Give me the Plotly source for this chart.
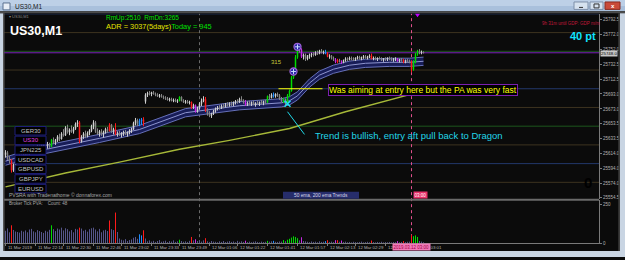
import plotly.graph_objects as go

W, H = 625, 260
FONT = "Liberation Sans, Arial, sans-serif"

# ---------------- data ----------------
opens = [25612, 25615, 25607, 25604, 25591, 25598, 25604, 25607, 25610, 25606,
         25612, 25616, 25613, 25618, 25621, 25617, 25620, 25624, 25622, 25625,
         25627, 25624, 25626, 25623, 25632, 25628, 25631, 25636, 25633, 25640,
         25638, 25648, 25642, 25645, 25643, 25647, 25653, 25655, 25630, 25636,
         25640, 25637, 25641, 25644, 25650, 25655, 25643, 25640, 25643, 25639,
         25642, 25646, 25644, 25652, 25643, 25646, 25640, 25641, 25638, 25640,
         25642, 25639, 25641, 25644, 25646, 25654, 25658, 25652, 25657, 25659,
         25683, 25692, 25694, 25693, 25695, 25693, 25692, 25690, 25691, 25689,
         25688, 25687, 25685, 25686, 25684, 25685, 25683, 25684, 25689, 25684,
         25682, 25683, 25681, 25682, 25675, 25678, 25670, 25674, 25680, 25684,
         25686, 25671, 25666, 25664, 25667, 25670, 25673, 25675, 25674, 25677,
         25676, 25679, 25678, 25680, 25679, 25681, 25683, 25682, 25686, 25684,
         25682, 25679, 25681, 25680, 25682, 25679, 25681, 25680, 25682, 25681,
         25683, 25682, 25690, 25688, 25692, 25690, 25693, 25691, 25687, 25683,
         25686, 25680, 25691, 25697, 25715, 25723, 25742, 25755, 25752, 25743,
         25745, 25740, 25743, 25745, 25746, 25745, 25748, 25747, 25750, 25748,
         25749, 25747, 25743, 25744, 25741, 25739, 25736, 25738, 25736, 25735,
         25738, 25740, 25739, 25741, 25740, 25739, 25741, 25742, 25740, 25742,
         25743, 25741, 25742, 25744, 25740, 25741, 25739, 25741, 25740, 25738,
         25740, 25739, 25741, 25740, 25738, 25739, 25740, 25737, 25739, 25738,
         25736, 25738, 25737, 25736, 25726, 25736, 25746, 25750, 25748, 25749]
highs = [25618, 25617, 25610, 25606, 25600, 25606, 25609, 25612, 25613, 25614,
         25618, 25619, 25620, 25623, 25624, 25622, 25626, 25628, 25627, 25630,
         25631, 25629, 25628, 25633, 25635, 25633, 25638, 25640, 25642, 25646,
         25650, 25652, 25647, 25651, 25649, 25655, 25658, 25657, 25638, 25642,
         25644, 25643, 25646, 25652, 25658, 25657, 25647, 25645, 25646, 25644,
         25648, 25649, 25654, 25653, 25648, 25654, 25643, 25644, 25642, 25644,
         25645, 25643, 25646, 25648, 25656, 25661, 25660, 25660, 25661, 25662,
         25694, 25696, 25697, 25696, 25697, 25695, 25694, 25693, 25693, 25691,
         25690, 25689, 25688, 25688, 25687, 25687, 25686, 25690, 25690, 25686,
         25685, 25685, 25684, 25683, 25680, 25679, 25676, 25682, 25687, 25690,
         25689, 25674, 25670, 25668, 25672, 25675, 25677, 25678, 25679, 25680,
         25681, 25682, 25682, 25683, 25683, 25685, 25686, 25688, 25690, 25686,
         25685, 25683, 25684, 25683, 25684, 25682, 25684, 25683, 25685, 25684,
         25685, 25691, 25693, 25694, 25695, 25694, 25695, 25693, 25689, 25688,
         25687, 25693, 25699, 25717, 25726, 25745, 25758, 25759, 25754, 25747,
         25747, 25745, 25747, 25748, 25749, 25750, 25751, 25752, 25753, 25751,
         25752, 25749, 25746, 25745, 25743, 25741, 25740, 25740, 25738, 25739,
         25742, 25742, 25743, 25743, 25742, 25742, 25744, 25744, 25743, 25745,
         25745, 25744, 25746, 25747, 25743, 25743, 25742, 25743, 25742, 25741,
         25742, 25742, 25743, 25742, 25741, 25742, 25741, 25740, 25741, 25740,
         25739, 25740, 25739, 25738, 25738, 25748, 25752, 25753, 25751, 25750]
lows = [25608, 25605, 25600, 25588, 25589, 25595, 25600, 25603, 25604, 25605,
        25609, 25610, 25611, 25614, 25615, 25613, 25617, 25619, 25618, 25621,
        25622, 25620, 25621, 25622, 25626, 25625, 25629, 25630, 25632, 25636,
        25637, 25640, 25638, 25641, 25640, 25645, 25649, 25627, 25628, 25633,
        25634, 25635, 25638, 25642, 25646, 25641, 25638, 25636, 25637, 25635,
        25640, 25641, 25643, 25641, 25639, 25638, 25636, 25637, 25635, 25637,
        25638, 25636, 25639, 25641, 25645, 25651, 25650, 25650, 25652, 25650,
        25680, 25689, 25691, 25690, 25692, 25690, 25689, 25688, 25688, 25686,
        25685, 25684, 25683, 25683, 25682, 25682, 25681, 25683, 25683, 25681,
        25680, 25680, 25679, 25673, 25673, 25668, 25668, 25672, 25677, 25682,
        25669, 25664, 25662, 25661, 25665, 25668, 25671, 25672, 25673, 25674,
        25675, 25676, 25676, 25677, 25677, 25679, 25680, 25681, 25683, 25680,
        25677, 25677, 25678, 25677, 25678, 25676, 25678, 25677, 25679, 25678,
        25680, 25681, 25686, 25687, 25688, 25688, 25689, 25685, 25682, 25681,
        25678, 25679, 25689, 25696, 25713, 25721, 25740, 25748, 25741, 25739,
        25737, 25738, 25740, 25742, 25743, 25744, 25745, 25746, 25747, 25746,
        25746, 25742, 25740, 25739, 25737, 25734, 25734, 25735, 25733, 25734,
        25736, 25737, 25738, 25738, 25737, 25737, 25739, 25739, 25738, 25740,
        25740, 25739, 25741, 25739, 25738, 25738, 25737, 25739, 25737, 25736,
        25737, 25737, 25738, 25737, 25736, 25737, 25736, 25735, 25736, 25734,
        25734, 25735, 25734, 25722, 25724, 25734, 25744, 25746, 25746, 25747]
closes = [25615, 25607, 25604, 25591, 25598, 25604, 25607, 25610, 25606, 25612,
          25616, 25613, 25618, 25621, 25617, 25620, 25624, 25622, 25625, 25627,
          25624, 25626, 25623, 25632, 25628, 25631, 25636, 25633, 25640, 25638,
          25648, 25642, 25645, 25643, 25647, 25653, 25655, 25630, 25636, 25640,
          25637, 25641, 25644, 25650, 25655, 25643, 25640, 25643, 25639, 25642,
          25646, 25644, 25652, 25643, 25646, 25640, 25641, 25638, 25640, 25642,
          25639, 25641, 25644, 25646, 25654, 25658, 25652, 25657, 25659, 25655,
          25692, 25694, 25693, 25695, 25693, 25692, 25690, 25691, 25689, 25688,
          25687, 25685, 25686, 25684, 25685, 25683, 25684, 25689, 25684, 25682,
          25683, 25681, 25682, 25675, 25678, 25670, 25674, 25680, 25684, 25686,
          25671, 25666, 25664, 25667, 25670, 25673, 25675, 25674, 25677, 25676,
          25679, 25678, 25680, 25679, 25681, 25683, 25682, 25686, 25684, 25682,
          25679, 25681, 25680, 25682, 25679, 25681, 25680, 25682, 25681, 25683,
          25682, 25690, 25688, 25692, 25690, 25693, 25691, 25687, 25683, 25686,
          25680, 25691, 25697, 25715, 25723, 25742, 25755, 25752, 25743, 25745,
          25740, 25743, 25745, 25746, 25745, 25748, 25747, 25750, 25748, 25749,
          25747, 25743, 25744, 25741, 25739, 25736, 25738, 25736, 25735, 25738,
          25740, 25739, 25741, 25740, 25739, 25741, 25742, 25740, 25742, 25743,
          25741, 25742, 25744, 25740, 25741, 25739, 25741, 25740, 25738, 25740,
          25739, 25741, 25740, 25738, 25739, 25740, 25737, 25739, 25738, 25736,
          25738, 25737, 25736, 25726, 25736, 25746, 25750, 25748, 25749, 25748]
volumes = [80, 95, 70, 115, 85, 75, 72, 68, 80, 74,
           82, 70, 88, 92, 76, 70, 84, 78, 72, 66,
           80, 74, 86, 115, 90, 78, 94, 88, 100, 82,
           96, 90, 76, 84, 70, 92, 88, 100, 94, 80,
           86, 74, 90, 96, 100, 88, 76, 92, 70, 82,
           86, 78, 146, 90, 84, 197, 72, 30, 22, 18,
           26, 14, 20, 24, 35, 40, 28, 57, 50, 83,
           30, 12, 18, 10, 15, 8, 14, 20, 9, 12,
           16, 7, 13, 10, 18, 8, 12, 22, 14, 9,
           12, 8, 15, 40, 18, 25, 14, 16, 10, 18,
           32, 12, 8, 14, 10, 9, 6, 12, 8, 14,
           7, 10, 13, 8, 11, 6, 15, 9, 12, 8,
           16, 7, 10, 6, 9, 12, 8, 6, 10, 7,
           9, 15, 10, 12, 15, 9, 8, 11, 10, 20,
           13, 22, 28, 36, 44, 40, 32, 18, 38, 14,
           12, 9, 7, 11, 8, 10, 6, 12, 8, 9,
           13, 19, 8, 10, 7, 19, 19, 9, 17, 8,
           10, 6, 8, 5, 9, 7, 6, 8, 10, 5,
           7, 9, 6, 17, 7, 5, 8, 6, 9, 5,
           7, 6, 8, 5, 7, 6, 13, 6, 8, 13,
           7, 9, 10, 53, 45, 50, 40, 14, 10, 6]

# PVSRA colour classes (bar indices)
red_bars = [3, 37, 52, 55, 69, 93, 100, 161, 166, 183, 199, 203]
green_bars = [23, 87, 131, 139, 141, 142, 143, 144, 145, 146, 204, 205, 206]
blue_bars = [67, 68, 134, 160]
magenta_bars = [95, 120, 148, 165, 168, 196]

# Dragon (EMA34 high / close / low) and 200 EMA, read at vertices
dragon_x = [0, 18, 47, 67, 90, 103, 117, 138, 142, 146, 152, 157, 164, 172, 180, 192, 202, 209]
dragon_hi = [25608.8, 25623.4, 25639.2, 25651.1, 25673.5, 25677.5, 25682.8, 25686.7, 25689.4,
             25696.0, 25713.1, 25723.7, 25731.6, 25736.9, 25739.5, 25740.8, 25740.8, 25742.2]
dragon_mid = [25603.3, 25617.9, 25633.7, 25645.6, 25668.0, 25672.0, 25677.3, 25681.2, 25683.9,
              25690.5, 25707.6, 25718.2, 25726.1, 25731.4, 25734.0, 25735.3, 25735.3, 25736.7]
dragon_lo = [25597.8, 25612.4, 25628.2, 25640.1, 25662.5, 25666.5, 25671.8, 25675.7, 25678.4,
             25685.0, 25702.1, 25712.7, 25720.6, 25725.9, 25728.5, 25729.8, 25729.8, 25731.2]
ema200_x = [0, 30, 57, 87, 112, 142, 170, 202, 209]
ema200 = [25569.0, 25587.5, 25602.0, 25619.2, 25631.1, 25646.9, 25669.3, 25691.8, 25697.1]

price_ticks = [25554.5, 25574.0, 25594.0, 25614.0, 25633.5, 25653.5, 25673.0,
               25693.0, 25712.5, 25732.5, 25752.0, 25772.0, 25792.5]
vol_ticks = [0, 250]
round_levels = [25575, 25600, 25625, 25650, 25675, 25700, 25725, 25750, 25775, 25800]

time_label_bars = [0, 15, 29, 44, 58, 73, 87, 102, 116, 131, 146, 161, 175, 190, 204]
time_labels = ["11 Mar 2019", "11 Mar 22:14", "11 Mar 22:30", "11 Mar 22:46", "11 Mar 23:02",
               "11 Mar 23:33", "11 Mar 23:49", "12 Mar 01:06", "12 Mar 01:22", "12 Mar 01:41",
               "12 Mar 01:57", "12 Mar 02:13", "12 Mar 02:29", "12 Mar 02:45", "12 Mar 03:01"]
symbols = ["GER30", "US30", "JPN225", "USDCAD", "GBPUSD", "GBPJPY", "EURUSD"]
active_symbol = "US30"

separator_bar = 97          # day separator
event_bar = 203             # pink vertical line
event_label = "2019.03.12 03:00"
event_short = "03:00"
signal_bars = [144, 146]
signal_prices = [25723, 25756]
pullback_bar, pullback_price = 141, 25680
entry_level, entry_from, entry_to = 25700, 136.5, 158.5
move_points = "315"

# ---------------- helpers ----------------
N = len(closes)
def px(x): return x / W
def py(y): return 1 - y / H
P_BOT, P_TOP = 25553.18, 25800.02  # prices at pixel rows 201 and 14

cls = []
for i in range(N):
    if i in red_bars: c = "red"
    elif i in green_bars: c = "green"
    elif i in blue_bars: c = "blue"
    elif i in magenta_bars: c = "magenta"
    else: c = "bull" if closes[i] >= opens[i] else "bear"
    cls.append(c)

COL = {"bull": "#cfcfcf", "bear": "#858585", "red": "#ff1a1a", "green": "#00dc00",
       "blue": "#1e8cff", "magenta": "#c828e6"}
VCOL = dict(COL, bull="#55558a", bear="#55558a")

fig = go.Figure()

# Dragon band
fig.add_trace(go.Scatter(x=dragon_x, y=dragon_lo, mode="lines", line=dict(color="#6670b8", width=1),
                         hoverinfo="skip"))
fig.add_trace(go.Scatter(x=dragon_x, y=dragon_hi, mode="lines", line=dict(color="#6670b8", width=1),
                         fill="tonexty", fillcolor="#181d58", hoverinfo="skip"))
fig.add_trace(go.Scatter(x=dragon_x, y=dragon_mid, mode="lines", line=dict(color="#8e95cf", width=1),
                         hoverinfo="skip"))
# 200 EMA
fig.add_trace(go.Scatter(x=ema200_x, y=ema200, mode="lines", line=dict(color="#a6b838", width=1.4),
                         hoverinfo="skip"))

for key, col in COL.items():
    idx = [i for i in range(N) if cls[i] == key]
    if not idx:
        continue
    wx, wy, bx, by, vx, vy = [], [], [], [], [], []
    for i in idx:
        wx += [i, i, None]; wy += [lows[i], highs[i], None]
        lo_b, hi_b = min(opens[i], closes[i]), max(opens[i], closes[i])
        if hi_b - lo_b < 0.8:
            hi_b = lo_b + 0.8
        bx += [i, i, None]; by += [lo_b, hi_b, None]
        vx += [i, i, None]; vy += [0, volumes[i], None]
    fig.add_trace(go.Scatter(x=wx, y=wy, mode="lines", line=dict(color=col, width=1), hoverinfo="skip"))
    fig.add_trace(go.Scatter(x=bx, y=by, mode="lines", line=dict(color=col, width=1.5), hoverinfo="skip"))
    fig.add_trace(go.Scatter(x=vx, y=vy, mode="lines", line=dict(color=VCOL[key], width=1),
                             xaxis="x2", yaxis="y2", hoverinfo="skip"))

# signal circles
fig.add_trace(go.Scatter(x=signal_bars, y=signal_prices, mode="markers",
                         marker=dict(symbol="circle", size=7, color="#2a2aa8",
                                     line=dict(color="#9a60d8", width=1.3)), hoverinfo="skip"))
fig.add_trace(go.Scatter(x=signal_bars, y=signal_prices, mode="markers",
                         marker=dict(symbol="cross-thin", size=3.5, line=dict(color="#c8d8ff", width=1)),
                         hoverinfo="skip"))
fig.add_trace(go.Scatter(x=[pullback_bar], y=[pullback_price], mode="markers",
                         marker=dict(symbol="x-thin", size=6, line=dict(color="#20e0f0", width=1.6)),
                         hoverinfo="skip"))

shapes = []
# round-number levels
for lv in round_levels:
    m = lv % 100
    c = "#22386a" if m == 0 else ("#1d561d" if m == 50 else "#3d3320")
    shapes.append(dict(type="line", xref="paper", yref="y", x0=px(4), x1=px(599), y0=lv, y1=lv,
                       line=dict(color=c, width=1), layer="below"))
# bid line
shapes.append(dict(type="line", xref="paper", yref="y", x0=px(4), x1=px(599), y0=closes[-1], y1=closes[-1],
                   line=dict(color="#7a22b8", width=1), layer="below"))
# vertical separators
shapes.append(dict(type="line", xref="x", yref="paper", x0=separator_bar, x1=separator_bar,
                   y0=py(246), y1=py(14), line=dict(color="#6a6a6a", width=1, dash="dot"), layer="below"))
shapes.append(dict(type="line", xref="x", yref="paper", x0=event_bar, x1=event_bar,
                   y0=py(246), y1=py(14), line=dict(color="#e0508c", width=1, dash="dot"), layer="below"))
# user drawn lines
shapes.append(dict(type="line", xref="x", yref="y", x0=entry_from, x1=entry_to, y0=entry_level, y1=entry_level,
                   line=dict(color="#ffff00", width=1)))
shapes.append(dict(type="line", xref="x", yref="y", x0=141, x1=149.5, y0=25669.3, y1=25639,
                   line=dict(color="#20d8e8", width=1)))
# pane separators
shapes.append(dict(type="rect", xref="paper", yref="paper", x0=px(4), x1=px(599), y0=py(203), y1=py(201),
                   fillcolor="#6a6a6a", line=dict(width=0), layer="above"))
# symbol boxes
for k, s in enumerate(symbols):
    top = 128 + k * 9.75
    shapes.append(dict(type="rect", xref="paper", yref="paper", x0=px(15), x1=px(46), y0=py(top + 8.6), y1=py(top),
                       fillcolor="#000000", line=dict(color="#1e1e7a", width=1), layer="above"))
# ema label box
shapes.append(dict(type="rect", xref="paper", yref="paper", x0=px(283), x1=px(359), y0=py(201), y1=py(194),
                   fillcolor="#262d6b", line=dict(width=0), layer="above"))
# event triangle at top
shapes.append(dict(type="path", xref="paper", yref="paper",
                   path=f"M {px(415)} {py(14)} L {px(420)} {py(14)} L {px(417.5)} {py(17.5)} Z",
                   fillcolor="#c000ff", line=dict(width=0), layer="above"))
# window frame
frame = [
    (0, 0, 625, 6, "#bdd0e7"), (0, 6, 625, 11.5, "#a9c0dc"), (0, 11.5, 625, 13.5, "#4c4c4c"),
    (0, 13.5, 3.3, 260, "#c9d5e3"), (3.3, 13.5, 4.5, 254, "#5a5a5a"),
    (620, 13.5, 625, 260, "#c9d5e3"), (618.3, 13.5, 620, 254, "#3c3c3c"),
    (0, 254, 625, 260, "#c9d5e3"),
]
for x0, y0, x1, y1, c in frame:
    shapes.append(dict(type="rect", xref="paper", yref="paper", x0=px(x0), x1=px(x1), y0=py(y1), y1=py(y0),
                       fillcolor=c, line=dict(width=0), layer="above"))
# window buttons + icon
for x0, x1, c, lc in [(574, 588, "#d6e2ef", "#7d8fa8"), (590, 603, "#d6e2ef", "#7d8fa8"), (605, 620, "#c94a3a", "#8a2a20")]:
    shapes.append(dict(type="rect", xref="paper", yref="paper", x0=px(x0), x1=px(x1), y0=py(9.5), y1=py(2),
                       fillcolor=c, line=dict(color=lc, width=1), layer="above"))
shapes.append(dict(type="rect", xref="paper", yref="paper", x0=px(3), x1=px(10), y0=py(10), y1=py(3),
                   fillcolor="#e8eef6", line=dict(color="#5a7090", width=1), layer="above"))
shapes.append(dict(type="line", xref="paper", yref="paper", x0=px(579), x1=px(583), y0=py(7.5), y1=py(7.5),
                   line=dict(color="#333", width=1), layer="above"))
shapes.append(dict(type="rect", xref="paper", yref="paper", x0=px(594), x1=px(599), y0=py(8), y1=py(4),
                   line=dict(color="#333", width=1), layer="above"))

ann = []
def txt(x, y, s, size, color, anchor="left", bold=False, family=FONT, **kw):
    if bold:
        s = f"<b>{s}</b>"
    ann.append(dict(x=px(x), y=py(y), xref="paper", yref="paper", text=s, showarrow=False,
                    xanchor=anchor, yanchor="middle", font=dict(size=size, color=color, family=family), **kw))

txt(13, 6.5, "US30,M1", 6.5, "#1a1a1a")
txt(612.5, 5.6, "x", 6, "#ffffff", anchor="center", bold=True)
txt(7, 16.5, "▾ US30,M1", 4, "#8a8a8a")
txt(8, 31.5, "US30,M1", 12.5, "#ffffff", bold=True)
txt(104, 18, "RmUp:2510  RmDn:3265", 6.5, "#00e000")
txt(104, 27, "<span style='color:#e6e600'>ADR = 3037(5days)</span>Today = 945", 7.4, "#00e000")
txt(540, 24, "9h 31m until GDP: GDP m/m", 4.5, "#c0183a")
txt(568, 36.5, "40 pt", 11, "#10e4ff", bold=True)
txt(582, 185, "0", 15, "#000000", bold=True)
txt(7, 197.3, "PVSRA with Tradenathome © donnaforex.com", 5, "#a8a8a8")
txt(7, 205.7, "Broker Tick PVA:    Count: 48", 4.5, "#a8a8a8")
txt(321, 197.5, "50 ema, 200 ema Trends", 4.8, "#d8d8e8", anchor="center")
for k, s in enumerate(symbols):
    top = 128 + k * 9.75
    txt(30.5, top + 4.3, s, 6, "#e040e0" if s == active_symbol else "#c4c4c4", anchor="center")

# axis / time labels
for b, s in zip(time_label_bars, time_labels):
    ann.append(dict(x=b, y=py(250.3), xref="x", yref="paper", text=s, showarrow=False, xanchor="left",
                    yanchor="middle", font=dict(size=4.3, color="#b4b4b4", family=FONT)))
ann.append(dict(x=event_bar, y=py(250.3), xref="x", yref="paper", text=event_label, showarrow=False,
                xanchor="center", yanchor="middle", bgcolor="#f27ab8", borderpad=0.5,
                font=dict(size=4.5, color="#a0004a", family=FONT)))
ann.append(dict(x=event_bar, y=py(197.3), xref="x", yref="paper", text=event_short, showarrow=False,
                xanchor="left", xshift=1, yanchor="middle", bgcolor="#e8306a", borderpad=0.5,
                font=dict(size=4.5, color="#ffffff", family=FONT)))
ann.append(dict(x=px(600), y=closes[-1], xref="paper", yref="y", text=f"{closes[-1]:.1f}", showarrow=False,
                xanchor="left", yanchor="middle", yshift=-0.5, bgcolor="#c8c8c8", borderpad=0,
                font=dict(size=4.4, color="#000000", family=FONT)))
# chart text objects
ann.append(dict(x=161, y=25698.4, xref="x", yref="y", text="Was aiming at entry here but the PA was very fast",
                showarrow=False, xanchor="left", yanchor="middle", bgcolor="#000000", bordercolor="#7a1fb0",
                borderwidth=1, borderpad=0, font=dict(size=8.5, color="#ffff00", family=FONT)))
ann.append(dict(x=153.5, y=25637.7, xref="x", yref="y", text="Trend is bullish, entry aft pull back to Dragon",
                showarrow=False, xanchor="left", yanchor="middle", font=dict(size=9.5, color="#22d6e8", family=FONT)))
ann.append(dict(x=135.5, y=25735.3, xref="x", yref="y", text=move_points, showarrow=False, xanchor="center",
                yanchor="middle", font=dict(size=6, color="#c8c83a", family=FONT)))

axis_common = dict(showgrid=False, zeroline=False, fixedrange=True)
fig.update_layout(
    width=W, height=H, margin=dict(l=0, r=0, t=0, b=0),
    paper_bgcolor="#0b0b0b", plot_bgcolor="#0b0b0b", showlegend=False,
    font=dict(family=FONT),
    xaxis=dict(domain=[px(4), px(599)], range=[-0.75, 296.75], showticklabels=False, ticks="",
               anchor="y", **axis_common),
    yaxis=dict(domain=[py(201), py(14)], range=[P_BOT, P_TOP], side="right", anchor="x",
               tickvals=price_ticks, ticktext=[f"{v:.1f}" for v in price_ticks],
               tickfont=dict(size=4.5, color="#b4b4b4", family=FONT), ticks="outside", ticklen=2,
               tickcolor="#7a7a7a", showline=True, linecolor="#7a7a7a", linewidth=1, **axis_common),
    xaxis2=dict(domain=[px(4), px(599)], range=[-0.75, 296.75], anchor="y2", showticklabels=False,
                ticks="outside", tickvals=time_label_bars, ticklen=2, tickcolor="#7a7a7a",
                showline=True, linecolor="#7a7a7a", linewidth=1, **axis_common),
    yaxis2=dict(domain=[py(246), py(202)], range=[0, 280], side="right", anchor="x2",
                tickvals=vol_ticks, ticktext=[str(v) for v in vol_ticks],
                tickfont=dict(size=4.5, color="#b4b4b4", family=FONT), ticks="outside", ticklen=2,
                tickcolor="#7a7a7a", showline=True, linecolor="#7a7a7a", linewidth=1, **axis_common),
    shapes=shapes, annotations=ann,
)

fig.write_html("out.html")
